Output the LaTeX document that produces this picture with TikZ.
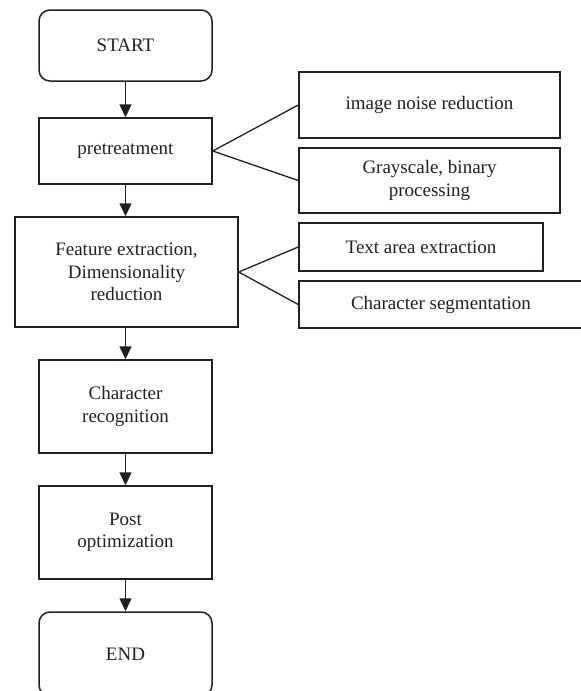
\documentclass[tikz,border=0pt]{standalone}
\usepackage{fontspec}
\setmainfont{Liberation Serif}
\usetikzlibrary{arrows.meta}
\definecolor{ink}{RGB}{35,31,32}
\begin{document}
\begin{tikzpicture}[x=1pt,y=-1pt,
  every node/.style={font=\fontsize{19}{22.5}\selectfont, text=ink},
  box/.style={draw=ink, line width=1.5pt, inner sep=0pt, align=center},
  term/.style={box, rounded corners=11pt},
  flow/.style={draw=ink, line width=1.5pt, -{Triangle[width=12pt,length=13pt]}},
  branch/.style={draw=ink, line width=1.3pt}]
\useasboundingbox (0,0) rectangle (581,691);
\begin{scope}
\clip (0,0) rectangle (581,691);
% main column
\node[term, minimum width=173pt, minimum height=71pt] (start) at (125.5,45.5) {START};
\node[box, minimum width=173pt, minimum height=66pt] (pre) at (125.5,151) {pretreatment};
\node[box, minimum width=223pt, minimum height=110pt] (feat) at (126.5,272) {Feature extraction,\\Dimensionality\\reduction};
\node[box, minimum width=173pt, minimum height=93pt] (rec) at (125.5,406.5) {Character\\recognition};
\node[box, minimum width=173pt, minimum height=93pt] (post) at (125.5,532.5) {Post\\optimization};
\node[term, minimum width=173pt, minimum height=84pt] (end) at (125.5,654) {END};
% side boxes
\node[box, minimum width=261pt, minimum height=66pt] (noise) at (429.5,105) {image noise reduction};
\node[box, minimum width=261pt, minimum height=65pt] (gray) at (429.5,180.5) {Grayscale, binary\\processing};
\node[box, minimum width=244pt, minimum height=48pt] (area) at (421,247) {Text area extraction};
\node[box, minimum width=284pt, minimum height=47pt] (seg) at (441,304.5) {Character segmentation};
% arrows
\draw[flow] (start) -- (pre);
\draw[flow] (pre) -- (feat.north -| pre);
\draw[flow] (feat.south -| rec) -- (rec);
\draw[flow] (rec) -- (post);
\draw[flow] (post) -- (end);
% branches
\draw[branch] (noise.west) -- (pre.east) -- (gray.west);
\draw[branch] (area.west) -- (feat.east) -- (seg.west);
\end{scope}
\end{tikzpicture}
\end{document}
